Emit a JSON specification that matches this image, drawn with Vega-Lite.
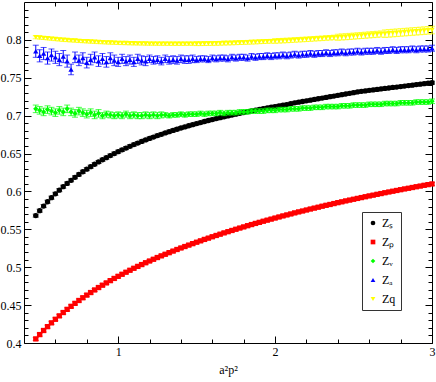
{
"$schema": "https://vega.github.io/schema/vega-lite/v6.json",
"width": 408, "height": 341,
"autosize": {"type": "none"},
"padding": {"left": 24, "top": 2, "right": 4, "bottom": 39},
"background": "white",
"config": {
  "view": {"stroke": null},
  "font": "Liberation Serif",
  "axis": {"labelFont": "Liberation Serif", "labelFontSize": 12, "labelColor": "black", "titleFont": "Liberation Serif", "titleFontSize": 12, "titleFontWeight": "normal", "titleColor": "black", "domainColor": "black", "domainWidth": 1, "tickColor": "black", "grid": false, "labelFlush": false, "labelOverlap": false, "labelBound": false}
},
"data": {"values": [
{"x":0.475,"S":0.5681,"P":0.4054,"V":0.709,"A":0.785,"q":0.8035,"eS":0.002,"eP":0.002,"eV":0.005,"eA":0.008,"eq":0.002},
{"x":0.5,"S":0.5746,"P":0.4111,"V":0.707,"A":0.779,"q":0.803,"eS":0.002,"eP":0.002,"eV":0.005,"eA":0.008,"eq":0.002},
{"x":0.525,"S":0.5807,"P":0.4165,"V":0.705,"A":0.782,"q":0.8025,"eS":0.002,"eP":0.002,"eV":0.005,"eA":0.008,"eq":0.002},
{"x":0.55,"S":0.5864,"P":0.4216,"V":0.708,"A":0.776,"q":0.802,"eS":0.002,"eP":0.002,"eV":0.005,"eA":0.008,"eq":0.002},
{"x":0.575,"S":0.5918,"P":0.4266,"V":0.706,"A":0.780,"q":0.8015,"eS":0.002,"eP":0.002,"eV":0.005,"eA":0.008,"eq":0.002},
{"x":0.6,"S":0.5969,"P":0.4313,"V":0.704,"A":0.777,"q":0.801,"eS":0.002,"eP":0.002,"eV":0.005,"eA":0.008,"eq":0.002},
{"x":0.625,"S":0.6017,"P":0.4358,"V":0.707,"A":0.774,"q":0.8005,"eS":0.002,"eP":0.002,"eV":0.005,"eA":0.008,"eq":0.002},
{"x":0.65,"S":0.6063,"P":0.4402,"V":0.705,"A":0.778,"q":0.800,"eS":0.002,"eP":0.002,"eV":0.005,"eA":0.008,"eq":0.002},
{"x":0.675,"S":0.6106,"P":0.4444,"V":0.709,"A":0.772,"q":0.7997,"eS":0.002,"eP":0.002,"eV":0.005,"eA":0.008,"eq":0.002},
{"x":0.7,"S":0.6147,"P":0.4484,"V":0.705,"A":0.761,"q":0.7993,"eS":0.002,"eP":0.002,"eV":0.005,"eA":0.007,"eq":0.002},
{"x":0.725,"S":0.6187,"P":0.4523,"V":0.703,"A":0.777,"q":0.799,"eS":0.002,"eP":0.002,"eV":0.005,"eA":0.007,"eq":0.002},
{"x":0.75,"S":0.6224,"P":0.4561,"V":0.706,"A":0.773,"q":0.7986,"eS":0.002,"eP":0.002,"eV":0.005,"eA":0.007,"eq":0.002},
{"x":0.775,"S":0.6260,"P":0.4597,"V":0.704,"A":0.776,"q":0.7983,"eS":0.002,"eP":0.002,"eV":0.005,"eA":0.007,"eq":0.002},
{"x":0.8,"S":0.6294,"P":0.4632,"V":0.702,"A":0.770,"q":0.798,"eS":0.002,"eP":0.002,"eV":0.005,"eA":0.007,"eq":0.002},
{"x":0.825,"S":0.6327,"P":0.4666,"V":0.704,"A":0.774,"q":0.7977,"eS":0.002,"eP":0.002,"eV":0.005,"eA":0.007,"eq":0.002},
{"x":0.85,"S":0.6359,"P":0.4700,"V":0.701,"A":0.777,"q":0.7974,"eS":0.002,"eP":0.002,"eV":0.005,"eA":0.007,"eq":0.002},
{"x":0.875,"S":0.6389,"P":0.4732,"V":0.703,"A":0.772,"q":0.7971,"eS":0.002,"eP":0.002,"eV":0.005,"eA":0.007,"eq":0.002},
{"x":0.9,"S":0.6418,"P":0.4763,"V":0.700,"A":0.775,"q":0.7969,"eS":0.002,"eP":0.002,"eV":0.004,"eA":0.007,"eq":0.002},
{"x":0.925,"S":0.6446,"P":0.4793,"V":0.702,"A":0.771,"q":0.7966,"eS":0.002,"eP":0.002,"eV":0.004,"eA":0.007,"eq":0.002},
{"x":0.95,"S":0.6474,"P":0.4823,"V":0.701,"A":0.776,"q":0.7964,"eS":0.002,"eP":0.002,"eV":0.004,"eA":0.007,"eq":0.002},
{"x":0.975,"S":0.6500,"P":0.4852,"V":0.700,"A":0.773,"q":0.7962,"eS":0.002,"eP":0.002,"eV":0.004,"eA":0.007,"eq":0.002},
{"x":1.0,"S":0.6525,"P":0.4880,"V":0.701,"A":0.771,"q":0.796,"eS":0.002,"eP":0.002,"eV":0.004,"eA":0.006,"eq":0.002},
{"x":1.025,"S":0.6549,"P":0.4907,"V":0.700,"A":0.775,"q":0.7958,"eS":0.002,"eP":0.002,"eV":0.004,"eA":0.006,"eq":0.002},
{"x":1.05,"S":0.6572,"P":0.4934,"V":0.702,"A":0.772,"q":0.7957,"eS":0.002,"eP":0.002,"eV":0.004,"eA":0.006,"eq":0.002},
{"x":1.075,"S":0.6596,"P":0.4960,"V":0.700,"A":0.774,"q":0.7955,"eS":0.002,"eP":0.002,"eV":0.004,"eA":0.006,"eq":0.002},
{"x":1.1,"S":0.6618,"P":0.4986,"V":0.701,"A":0.771,"q":0.7954,"eS":0.002,"eP":0.002,"eV":0.004,"eA":0.006,"eq":0.002},
{"x":1.125,"S":0.6639,"P":0.5011,"V":0.700,"A":0.775,"q":0.7953,"eS":0.002,"eP":0.002,"eV":0.004,"eA":0.006,"eq":0.002},
{"x":1.15,"S":0.6660,"P":0.5035,"V":0.700,"A":0.773,"q":0.7952,"eS":0.002,"eP":0.002,"eV":0.004,"eA":0.006,"eq":0.002},
{"x":1.175,"S":0.6680,"P":0.5059,"V":0.701,"A":0.772,"q":0.7951,"eS":0.002,"eP":0.002,"eV":0.004,"eA":0.006,"eq":0.002},
{"x":1.2,"S":0.6699,"P":0.5082,"V":0.700,"A":0.775,"q":0.795,"eS":0.002,"eP":0.002,"eV":0.004,"eA":0.005,"eq":0.002},
{"x":1.225,"S":0.6718,"P":0.5105,"V":0.701,"A":0.773,"q":0.795,"eS":0.002,"eP":0.002,"eV":0.004,"eA":0.005,"eq":0.002},
{"x":1.25,"S":0.6737,"P":0.5128,"V":0.700,"A":0.774,"q":0.7949,"eS":0.002,"eP":0.002,"eV":0.004,"eA":0.005,"eq":0.002},
{"x":1.275,"S":0.6754,"P":0.5150,"V":0.701,"A":0.772,"q":0.7949,"eS":0.002,"eP":0.002,"eV":0.004,"eA":0.005,"eq":0.002},
{"x":1.3,"S":0.6772,"P":0.5171,"V":0.701,"A":0.775,"q":0.7949,"eS":0.002,"eP":0.002,"eV":0.003,"eA":0.005,"eq":0.002},
{"x":1.325,"S":0.6789,"P":0.5192,"V":0.700,"A":0.773,"q":0.7948,"eS":0.002,"eP":0.002,"eV":0.003,"eA":0.005,"eq":0.002},
{"x":1.35,"S":0.6805,"P":0.5213,"V":0.701,"A":0.774,"q":0.7948,"eS":0.002,"eP":0.002,"eV":0.003,"eA":0.005,"eq":0.002},
{"x":1.375,"S":0.6821,"P":0.5234,"V":0.701,"A":0.773,"q":0.7948,"eS":0.002,"eP":0.002,"eV":0.003,"eA":0.005,"eq":0.002},
{"x":1.4,"S":0.6837,"P":0.5254,"V":0.702,"A":0.775,"q":0.7948,"eS":0.002,"eP":0.002,"eV":0.003,"eA":0.005,"eq":0.002},
{"x":1.425,"S":0.6852,"P":0.5273,"V":0.701,"A":0.774,"q":0.7948,"eS":0.002,"eP":0.002,"eV":0.003,"eA":0.005,"eq":0.002},
{"x":1.45,"S":0.6867,"P":0.5292,"V":0.702,"A":0.774,"q":0.7949,"eS":0.002,"eP":0.002,"eV":0.003,"eA":0.005,"eq":0.002},
{"x":1.475,"S":0.6881,"P":0.5311,"V":0.702,"A":0.775,"q":0.7949,"eS":0.002,"eP":0.002,"eV":0.003,"eA":0.005,"eq":0.002},
{"x":1.5,"S":0.6895,"P":0.5330,"V":0.702,"A":0.774,"q":0.795,"eS":0.002,"eP":0.002,"eV":0.003,"eA":0.004,"eq":0.0025},
{"x":1.525,"S":0.6909,"P":0.5348,"V":0.703,"A":0.775,"q":0.795,"eS":0.002,"eP":0.002,"eV":0.003,"eA":0.004,"eq":0.0025},
{"x":1.55,"S":0.6923,"P":0.5367,"V":0.702,"A":0.775,"q":0.7951,"eS":0.002,"eP":0.002,"eV":0.003,"eA":0.004,"eq":0.0025},
{"x":1.575,"S":0.6936,"P":0.5384,"V":0.703,"A":0.774,"q":0.7952,"eS":0.002,"eP":0.002,"eV":0.003,"eA":0.004,"eq":0.0025},
{"x":1.6,"S":0.6949,"P":0.5402,"V":0.703,"A":0.776,"q":0.7953,"eS":0.002,"eP":0.002,"eV":0.003,"eA":0.004,"eq":0.0025},
{"x":1.625,"S":0.6961,"P":0.5419,"V":0.703,"A":0.775,"q":0.7954,"eS":0.002,"eP":0.002,"eV":0.003,"eA":0.004,"eq":0.0025},
{"x":1.65,"S":0.6973,"P":0.5436,"V":0.704,"A":0.776,"q":0.7955,"eS":0.002,"eP":0.002,"eV":0.003,"eA":0.004,"eq":0.0025},
{"x":1.675,"S":0.6985,"P":0.5453,"V":0.703,"A":0.776,"q":0.7957,"eS":0.002,"eP":0.002,"eV":0.003,"eA":0.004,"eq":0.0025},
{"x":1.7,"S":0.6997,"P":0.5469,"V":0.704,"A":0.775,"q":0.7958,"eS":0.002,"eP":0.002,"eV":0.003,"eA":0.004,"eq":0.0025},
{"x":1.725,"S":0.7008,"P":0.5485,"V":0.704,"A":0.777,"q":0.796,"eS":0.002,"eP":0.002,"eV":0.003,"eA":0.004,"eq":0.0025},
{"x":1.75,"S":0.7020,"P":0.5501,"V":0.704,"A":0.776,"q":0.7962,"eS":0.002,"eP":0.002,"eV":0.003,"eA":0.004,"eq":0.0025},
{"x":1.775,"S":0.7031,"P":0.5517,"V":0.705,"A":0.777,"q":0.7964,"eS":0.002,"eP":0.002,"eV":0.003,"eA":0.004,"eq":0.0025},
{"x":1.8,"S":0.7042,"P":0.5532,"V":0.705,"A":0.777,"q":0.7966,"eS":0.002,"eP":0.002,"eV":0.003,"eA":0.004,"eq":0.0025},
{"x":1.825,"S":0.7052,"P":0.5548,"V":0.705,"A":0.776,"q":0.7968,"eS":0.002,"eP":0.002,"eV":0.003,"eA":0.004,"eq":0.0025},
{"x":1.85,"S":0.7062,"P":0.5563,"V":0.706,"A":0.778,"q":0.797,"eS":0.002,"eP":0.002,"eV":0.003,"eA":0.004,"eq":0.0025},
{"x":1.875,"S":0.7072,"P":0.5578,"V":0.706,"A":0.777,"q":0.7972,"eS":0.002,"eP":0.002,"eV":0.003,"eA":0.004,"eq":0.0025},
{"x":1.9,"S":0.7082,"P":0.5592,"V":0.706,"A":0.778,"q":0.7975,"eS":0.002,"eP":0.002,"eV":0.003,"eA":0.004,"eq":0.0025},
{"x":1.925,"S":0.7092,"P":0.5607,"V":0.706,"A":0.778,"q":0.7977,"eS":0.002,"eP":0.002,"eV":0.003,"eA":0.004,"eq":0.0025},
{"x":1.95,"S":0.7102,"P":0.5621,"V":0.707,"A":0.779,"q":0.798,"eS":0.002,"eP":0.002,"eV":0.003,"eA":0.004,"eq":0.0025},
{"x":1.975,"S":0.7111,"P":0.5635,"V":0.707,"A":0.778,"q":0.7982,"eS":0.002,"eP":0.002,"eV":0.003,"eA":0.004,"eq":0.0025},
{"x":2.0,"S":0.7120,"P":0.5649,"V":0.707,"A":0.779,"q":0.7985,"eS":0.002,"eP":0.002,"eV":0.003,"eA":0.004,"eq":0.003},
{"x":2.025,"S":0.7129,"P":0.5663,"V":0.708,"A":0.779,"q":0.7988,"eS":0.002,"eP":0.002,"eV":0.003,"eA":0.004,"eq":0.003},
{"x":2.05,"S":0.7138,"P":0.5677,"V":0.708,"A":0.780,"q":0.799,"eS":0.002,"eP":0.002,"eV":0.003,"eA":0.004,"eq":0.003},
{"x":2.075,"S":0.7147,"P":0.5690,"V":0.708,"A":0.779,"q":0.7993,"eS":0.002,"eP":0.002,"eV":0.003,"eA":0.004,"eq":0.003},
{"x":2.1,"S":0.7158,"P":0.5703,"V":0.709,"A":0.780,"q":0.7996,"eS":0.002,"eP":0.002,"eV":0.003,"eA":0.004,"eq":0.003},
{"x":2.125,"S":0.7169,"P":0.5717,"V":0.709,"A":0.781,"q":0.7999,"eS":0.002,"eP":0.002,"eV":0.003,"eA":0.004,"eq":0.003},
{"x":2.15,"S":0.7178,"P":0.5730,"V":0.709,"A":0.780,"q":0.8002,"eS":0.002,"eP":0.002,"eV":0.003,"eA":0.004,"eq":0.003},
{"x":2.175,"S":0.7187,"P":0.5742,"V":0.710,"A":0.781,"q":0.8005,"eS":0.002,"eP":0.002,"eV":0.003,"eA":0.004,"eq":0.003},
{"x":2.2,"S":0.7196,"P":0.5755,"V":0.710,"A":0.781,"q":0.8008,"eS":0.002,"eP":0.002,"eV":0.003,"eA":0.004,"eq":0.003},
{"x":2.225,"S":0.7205,"P":0.5768,"V":0.710,"A":0.782,"q":0.8011,"eS":0.002,"eP":0.002,"eV":0.003,"eA":0.004,"eq":0.003},
{"x":2.25,"S":0.7214,"P":0.5780,"V":0.711,"A":0.781,"q":0.8015,"eS":0.002,"eP":0.002,"eV":0.003,"eA":0.004,"eq":0.003},
{"x":2.275,"S":0.7223,"P":0.5792,"V":0.711,"A":0.782,"q":0.8018,"eS":0.002,"eP":0.002,"eV":0.003,"eA":0.004,"eq":0.003},
{"x":2.3,"S":0.7232,"P":0.5805,"V":0.711,"A":0.782,"q":0.8021,"eS":0.002,"eP":0.002,"eV":0.003,"eA":0.004,"eq":0.003},
{"x":2.325,"S":0.7241,"P":0.5817,"V":0.712,"A":0.783,"q":0.8025,"eS":0.002,"eP":0.002,"eV":0.003,"eA":0.004,"eq":0.003},
{"x":2.35,"S":0.7250,"P":0.5828,"V":0.712,"A":0.782,"q":0.8028,"eS":0.002,"eP":0.002,"eV":0.003,"eA":0.004,"eq":0.003},
{"x":2.375,"S":0.7259,"P":0.5840,"V":0.712,"A":0.783,"q":0.8032,"eS":0.002,"eP":0.002,"eV":0.003,"eA":0.004,"eq":0.003},
{"x":2.4,"S":0.7268,"P":0.5852,"V":0.712,"A":0.783,"q":0.8035,"eS":0.002,"eP":0.002,"eV":0.003,"eA":0.004,"eq":0.004},
{"x":2.425,"S":0.7277,"P":0.5863,"V":0.713,"A":0.784,"q":0.8039,"eS":0.002,"eP":0.002,"eV":0.003,"eA":0.004,"eq":0.004},
{"x":2.45,"S":0.7286,"P":0.5875,"V":0.713,"A":0.783,"q":0.8042,"eS":0.002,"eP":0.002,"eV":0.003,"eA":0.004,"eq":0.004},
{"x":2.475,"S":0.7295,"P":0.5886,"V":0.713,"A":0.784,"q":0.8046,"eS":0.002,"eP":0.002,"eV":0.003,"eA":0.004,"eq":0.004},
{"x":2.5,"S":0.7304,"P":0.5897,"V":0.714,"A":0.784,"q":0.805,"eS":0.002,"eP":0.002,"eV":0.003,"eA":0.004,"eq":0.004},
{"x":2.525,"S":0.7313,"P":0.5908,"V":0.714,"A":0.785,"q":0.8054,"eS":0.002,"eP":0.002,"eV":0.003,"eA":0.004,"eq":0.004},
{"x":2.55,"S":0.7321,"P":0.5919,"V":0.714,"A":0.784,"q":0.8058,"eS":0.002,"eP":0.002,"eV":0.003,"eA":0.004,"eq":0.004},
{"x":2.575,"S":0.7327,"P":0.5930,"V":0.714,"A":0.785,"q":0.8062,"eS":0.002,"eP":0.002,"eV":0.003,"eA":0.004,"eq":0.004},
{"x":2.6,"S":0.7334,"P":0.5941,"V":0.715,"A":0.785,"q":0.8066,"eS":0.002,"eP":0.002,"eV":0.003,"eA":0.004,"eq":0.004},
{"x":2.625,"S":0.7340,"P":0.5951,"V":0.715,"A":0.785,"q":0.807,"eS":0.002,"eP":0.002,"eV":0.003,"eA":0.004,"eq":0.004},
{"x":2.65,"S":0.7346,"P":0.5962,"V":0.715,"A":0.786,"q":0.8074,"eS":0.002,"eP":0.002,"eV":0.003,"eA":0.004,"eq":0.004},
{"x":2.675,"S":0.7353,"P":0.5972,"V":0.715,"A":0.785,"q":0.8078,"eS":0.002,"eP":0.002,"eV":0.003,"eA":0.004,"eq":0.004},
{"x":2.7,"S":0.7359,"P":0.5983,"V":0.716,"A":0.786,"q":0.8082,"eS":0.002,"eP":0.002,"eV":0.003,"eA":0.004,"eq":0.005},
{"x":2.725,"S":0.7365,"P":0.5993,"V":0.716,"A":0.786,"q":0.8086,"eS":0.002,"eP":0.002,"eV":0.003,"eA":0.004,"eq":0.005},
{"x":2.75,"S":0.7372,"P":0.6003,"V":0.716,"A":0.787,"q":0.809,"eS":0.002,"eP":0.002,"eV":0.003,"eA":0.004,"eq":0.005},
{"x":2.775,"S":0.7378,"P":0.6013,"V":0.716,"A":0.786,"q":0.8094,"eS":0.002,"eP":0.002,"eV":0.003,"eA":0.004,"eq":0.005},
{"x":2.8,"S":0.7384,"P":0.6023,"V":0.717,"A":0.787,"q":0.8098,"eS":0.002,"eP":0.002,"eV":0.003,"eA":0.004,"eq":0.005},
{"x":2.825,"S":0.7391,"P":0.6033,"V":0.717,"A":0.787,"q":0.8102,"eS":0.002,"eP":0.002,"eV":0.003,"eA":0.004,"eq":0.005},
{"x":2.85,"S":0.7397,"P":0.6042,"V":0.717,"A":0.787,"q":0.8106,"eS":0.002,"eP":0.002,"eV":0.003,"eA":0.004,"eq":0.005},
{"x":2.875,"S":0.7403,"P":0.6052,"V":0.717,"A":0.788,"q":0.811,"eS":0.002,"eP":0.002,"eV":0.003,"eA":0.004,"eq":0.005},
{"x":2.9,"S":0.7410,"P":0.6062,"V":0.718,"A":0.787,"q":0.8114,"eS":0.002,"eP":0.002,"eV":0.003,"eA":0.004,"eq":0.005},
{"x":2.925,"S":0.7416,"P":0.6071,"V":0.718,"A":0.788,"q":0.8118,"eS":0.002,"eP":0.002,"eV":0.003,"eA":0.004,"eq":0.005},
{"x":2.95,"S":0.7422,"P":0.6081,"V":0.718,"A":0.788,"q":0.8122,"eS":0.002,"eP":0.002,"eV":0.003,"eA":0.004,"eq":0.005},
{"x":2.975,"S":0.7428,"P":0.6090,"V":0.718,"A":0.788,"q":0.8126,"eS":0.002,"eP":0.002,"eV":0.003,"eA":0.004,"eq":0.005},
{"x":3.0,"S":0.7435,"P":0.6099,"V":0.719,"A":0.789,"q":0.813,"eS":0.002,"eP":0.002,"eV":0.003,"eA":0.004,"eq":0.005}
]},
"resolve": {"axis": {"x": "independent", "y": "independent"}},
"layer": [
 {"mark": {"type": "point", "opacity": 0},
  "encoding": {
   "x": {"field": "x", "type": "quantitative", "scale": {"domain": [0.4, 3], "nice": false, "zero": false},
     "axis": {"orient": "bottom", "values": [0.6,0.8,1,1.2,1.4,1.6,1.8,2,2.2,2.4,2.6,2.8,3], "title": "a²p²", "titleY": 30, "titleBaseline": "alphabetic",
       "tickSize": {"condition": {"test": "abs(datum.value - round(datum.value)) < 0.001", "value": -7}, "value": -4},
       "labelExpr": "abs(datum.value - round(datum.value)) < 0.001 ? format(datum.value, 'd') : ''", "labelPadding": 10}},
   "y": {"field": "S", "type": "quantitative", "scale": {"domain": [0.4, 0.85], "nice": false, "zero": false}, "axis": null}}},
 {"mark": {"type": "point", "opacity": 0},
  "encoding": {
   "x": {"field": "x", "type": "quantitative", "scale": {"domain": [0.4, 3], "nice": false, "zero": false},
     "axis": {"orient": "top", "values": [0.6,0.8,1,1.2,1.4,1.6,1.8,2,2.2,2.4,2.6,2.8,3], "title": null, "labels": false,
       "tickSize": {"condition": {"test": "abs(datum.value - round(datum.value)) < 0.001", "value": -7}, "value": -4}}},
   "y": {"field": "S", "type": "quantitative", "scale": {"domain": [0.4, 0.85], "nice": false, "zero": false}, "axis": null}}},
 {"mark": {"type": "point", "opacity": 0},
  "encoding": {
   "x": {"field": "x", "type": "quantitative", "scale": {"domain": [0.4, 3], "nice": false, "zero": false}, "axis": null},
   "y": {"field": "S", "type": "quantitative", "scale": {"domain": [0.4, 0.85], "nice": false, "zero": false},
     "axis": {"orient": "left", "title": null, "values": [0.4,0.41,0.42,0.43,0.44,0.45,0.46,0.47,0.48,0.49,0.5,0.51,0.52,0.53,0.54,0.55,0.56,0.57,0.58,0.59,0.6,0.61,0.62,0.63,0.64,0.65,0.66,0.67,0.68,0.69,0.7,0.71,0.72,0.73,0.74,0.75,0.76,0.77,0.78,0.79,0.8,0.81,0.82,0.83,0.84],
       "tickSize": {"condition": {"test": "abs(datum.value*20 - round(datum.value*20)) < 0.01", "value": -7}, "value": -4},
       "labelExpr": "abs(datum.value*20 - round(datum.value*20)) < 0.01 ? format(datum.value, '.2~f') : ''", "labelPadding": 10}}}},
 {"mark": {"type": "point", "opacity": 0},
  "encoding": {
   "x": {"field": "x", "type": "quantitative", "scale": {"domain": [0.4, 3], "nice": false, "zero": false}, "axis": null},
   "y": {"field": "S", "type": "quantitative", "scale": {"domain": [0.4, 0.85], "nice": false, "zero": false},
     "axis": {"orient": "right", "title": null, "labels": false, "values": [0.4,0.41,0.42,0.43,0.44,0.45,0.46,0.47,0.48,0.49,0.5,0.51,0.52,0.53,0.54,0.55,0.56,0.57,0.58,0.59,0.6,0.61,0.62,0.63,0.64,0.65,0.66,0.67,0.68,0.69,0.7,0.71,0.72,0.73,0.74,0.75,0.76,0.77,0.78,0.79,0.8,0.81,0.82,0.83,0.84],
       "tickSize": {"condition": {"test": "abs(datum.value*20 - round(datum.value*20)) < 0.01", "value": -7}, "value": -4}}}}},
 {"mark": {"type": "errorbar", "color": "#000000", "thickness": 1, "ticks": {"size": 6, "thickness": 1, "color": "#000000"}},
  "encoding": {
   "x": {"field": "x", "type": "quantitative", "axis": null},
   "y": {"field": "S", "type": "quantitative", "axis": null},
   "yError": {"field": "eS"}}},
 {"mark": {"type": "point", "filled": true, "size": 28, "opacity": 1},
  "encoding": {
   "x": {"field": "x", "type": "quantitative", "axis": null},
   "y": {"field": "S", "type": "quantitative", "axis": null},
   "color": {"datum": "Zₛ", "type": "nominal", "scale": {"domain": ["Zₛ","Zₚ","Zᵥ","Zₐ","Zq"], "range": ["#000000","#ff0000","#00ff00","#0000ff","#ffff00"]},
     "legend": {"orient": "none", "legendX": 338, "legendY": 210, "title": null, "strokeColor": "#333333", "fillColor": "white", "padding": 5, "labelFont": "Liberation Serif", "labelFontSize": 12, "labelColor": "black", "labelOffset": 3, "symbolSize": 22, "rowPadding": 7, "symbolStrokeWidth": 0}},
   "shape": {"datum": "Zₛ", "type": "nominal", "scale": {"domain": ["Zₛ","Zₚ","Zᵥ","Zₐ","Zq"], "range": ["circle","square","diamond","triangle-up","triangle-down"]}}}},
 {"mark": {"type": "errorbar", "color": "#ff0000", "thickness": 1, "ticks": {"size": 6, "thickness": 1, "color": "#ff0000"}},
  "encoding": {
   "x": {"field": "x", "type": "quantitative", "axis": null},
   "y": {"field": "P", "type": "quantitative", "axis": null},
   "yError": {"field": "eP"}}},
 {"mark": {"type": "point", "filled": true, "size": 28, "opacity": 1},
  "encoding": {
   "x": {"field": "x", "type": "quantitative", "axis": null},
   "y": {"field": "P", "type": "quantitative", "axis": null},
   "color": {"datum": "Zₚ", "type": "nominal"},
   "shape": {"datum": "Zₚ", "type": "nominal"}}},
 {"mark": {"type": "errorbar", "color": "#00ff00", "thickness": 1, "ticks": {"size": 6, "thickness": 1, "color": "#00ff00"}},
  "encoding": {
   "x": {"field": "x", "type": "quantitative", "axis": null},
   "y": {"field": "V", "type": "quantitative", "axis": null},
   "yError": {"field": "eV"}}},
 {"mark": {"type": "point", "filled": true, "size": 28, "opacity": 1},
  "encoding": {
   "x": {"field": "x", "type": "quantitative", "axis": null},
   "y": {"field": "V", "type": "quantitative", "axis": null},
   "color": {"datum": "Zᵥ", "type": "nominal"},
   "shape": {"datum": "Zᵥ", "type": "nominal"}}},
 {"mark": {"type": "errorbar", "color": "#0000ff", "thickness": 1, "ticks": {"size": 6, "thickness": 1, "color": "#0000ff"}},
  "encoding": {
   "x": {"field": "x", "type": "quantitative", "axis": null},
   "y": {"field": "A", "type": "quantitative", "axis": null},
   "yError": {"field": "eA"}}},
 {"mark": {"type": "point", "filled": true, "size": 28, "opacity": 1},
  "encoding": {
   "x": {"field": "x", "type": "quantitative", "axis": null},
   "y": {"field": "A", "type": "quantitative", "axis": null},
   "color": {"datum": "Zₐ", "type": "nominal"},
   "shape": {"datum": "Zₐ", "type": "nominal"}}},
 {"mark": {"type": "errorbar", "color": "#ffff00", "thickness": 1, "ticks": {"size": 6, "thickness": 1, "color": "#ffff00"}},
  "encoding": {
   "x": {"field": "x", "type": "quantitative", "axis": null},
   "y": {"field": "q", "type": "quantitative", "axis": null},
   "yError": {"field": "eq"}}},
 {"mark": {"type": "point", "filled": true, "size": 28, "opacity": 1},
  "encoding": {
   "x": {"field": "x", "type": "quantitative", "axis": null},
   "y": {"field": "q", "type": "quantitative", "axis": null},
   "color": {"datum": "Zq", "type": "nominal"},
   "shape": {"datum": "Zq", "type": "nominal"}}}
]
}
